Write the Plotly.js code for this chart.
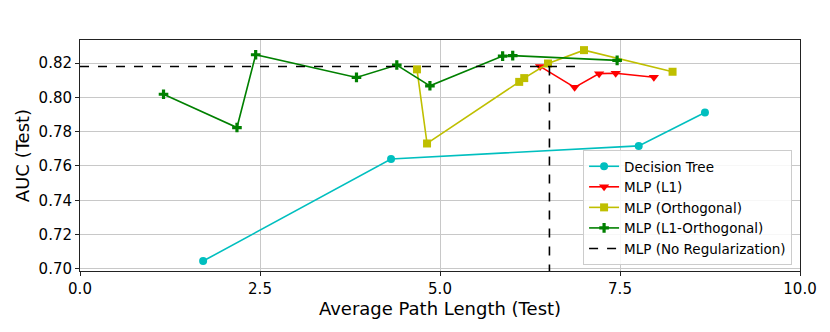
<!DOCTYPE html>
<html>
<head>
<meta charset="utf-8">
<script src="https://cdn.plot.ly/plotly-3.0.1.min.js"></script>
<style>
  html, body { margin: 0; padding: 0; background: #fff; }
  #plot { width: 830px; height: 332px; }
</style>
</head>
<body>
<div id="plot"></div>
<script>
// decision tree results
let treeLength = [1.71, 4.32, 7.76, 8.68];
let treeAuc = [0.7046, 0.7641, 0.7717, 0.7912];

// MLP with L1 regularization
let l1Length = [6.39, 6.87, 7.21, 7.44, 7.97];
let l1Auc = [0.8180, 0.8058, 0.8138, 0.8140, 0.8117];

// MLP with orthogonal regularization
let orthLength = [4.68, 4.82, 6.10, 6.17, 6.50, 7.00, 8.23];
let orthAuc = [0.8163, 0.7731, 0.8090, 0.8112, 0.8197, 0.8275, 0.8149];

// MLP with L1 + orthogonal regularization
let l1OrthLength = [1.16, 2.18, 2.44, 3.84, 4.40, 4.86, 5.87, 6.01, 7.46];
let l1OrthAuc = [0.8018, 0.7824, 0.8248, 0.8116, 0.8188, 0.8067, 0.8240, 0.8243, 0.8215];

// MLP without regularization (single reference point)
let noRegLength = 6.52;
let noRegAuc = 0.8180;
let noRegLineEnd = 6.95;

let font = "DejaVu Sans, sans-serif";

let trace1 = {
    x: treeLength, y: treeAuc,
    mode: "lines+markers",
    name: "Decision Tree",
    line: {color: "#00bfbf", width: 1.6},
    marker: {symbol: "circle", size: 8, color: "#00bfbf"}
};

let trace2 = {
    x: l1Length, y: l1Auc,
    mode: "lines+markers",
    name: "MLP (L1)",
    line: {color: "#ff0000", width: 1.6},
    marker: {symbol: "triangle-down", size: 9, color: "#ff0000"}
};

let trace3 = {
    x: orthLength, y: orthAuc,
    mode: "lines+markers",
    name: "MLP (Orthogonal)",
    line: {color: "#bfbf00", width: 1.6},
    marker: {symbol: "square", size: 8, color: "#bfbf00"}
};

let trace4 = {
    x: l1OrthLength, y: l1OrthAuc,
    mode: "lines+markers",
    name: "MLP (L1-Orthogonal)",
    line: {color: "#008000", width: 1.6},
    marker: {symbol: "cross", size: 8, color: "#008000"}
};

// dashed cross-hair marking the unregularized MLP
let trace5 = {
    x: [0, noRegLineEnd, null, noRegLength, noRegLength],
    y: [noRegAuc, noRegAuc, null, noRegAuc, 0.6],
    mode: "lines",
    name: "MLP (No Regularization)",
    line: {color: "#000000", width: 1.6, dash: "dash"}
};

let data = [trace1, trace2, trace3, trace4, trace5];

let layout = {
    width: 830,
    height: 332,
    margin: {l: 80, r: 30, t: 40, b: 61},
    paper_bgcolor: "#ffffff",
    plot_bgcolor: "#ffffff",
    font: {family: font, size: 15, color: "#000000"},
    showlegend: true,
    legend: {
        x: 0.989, xanchor: "right",
        y: 0.026, yanchor: "bottom",
        bgcolor: "rgba(255,255,255,0.85)",
        bordercolor: "#cccccc",
        borderwidth: 1,
        font: {family: font, size: 13.5},
        tracegroupgap: 0
    },
    xaxis: {
        range: [0, 10],
        dtick: 2.5,
        tick0: 0,
        tickformat: ".1f",
        showgrid: true,
        gridcolor: "#c8c8c8",
        gridwidth: 1,
        zeroline: false,
        showline: true,
        linecolor: "#222222",
        linewidth: 1,
        mirror: true,
        ticks: "outside",
        ticklen: 4,
        tickcolor: "#222222",
        tickfont: {family: font, size: 15},
        title: {text: "Average Path Length (Test)", font: {family: font, size: 18}, standoff: 4}
    },
    yaxis: {
        range: [0.6988, 0.8334],
        dtick: 0.02,
        tick0: 0.7,
        tickformat: ".2f",
        showgrid: true,
        gridcolor: "#c8c8c8",
        gridwidth: 1,
        zeroline: false,
        showline: true,
        linecolor: "#222222",
        linewidth: 1,
        mirror: true,
        ticks: "outside",
        ticklen: 4,
        tickcolor: "#222222",
        tickfont: {family: font, size: 15},
        title: {text: "AUC (Test)", font: {family: font, size: 18}, standoff: 4}
    }
};

Plotly.newPlot("plot", data, layout, {staticPlot: true});
</script>
</body>
</html>
